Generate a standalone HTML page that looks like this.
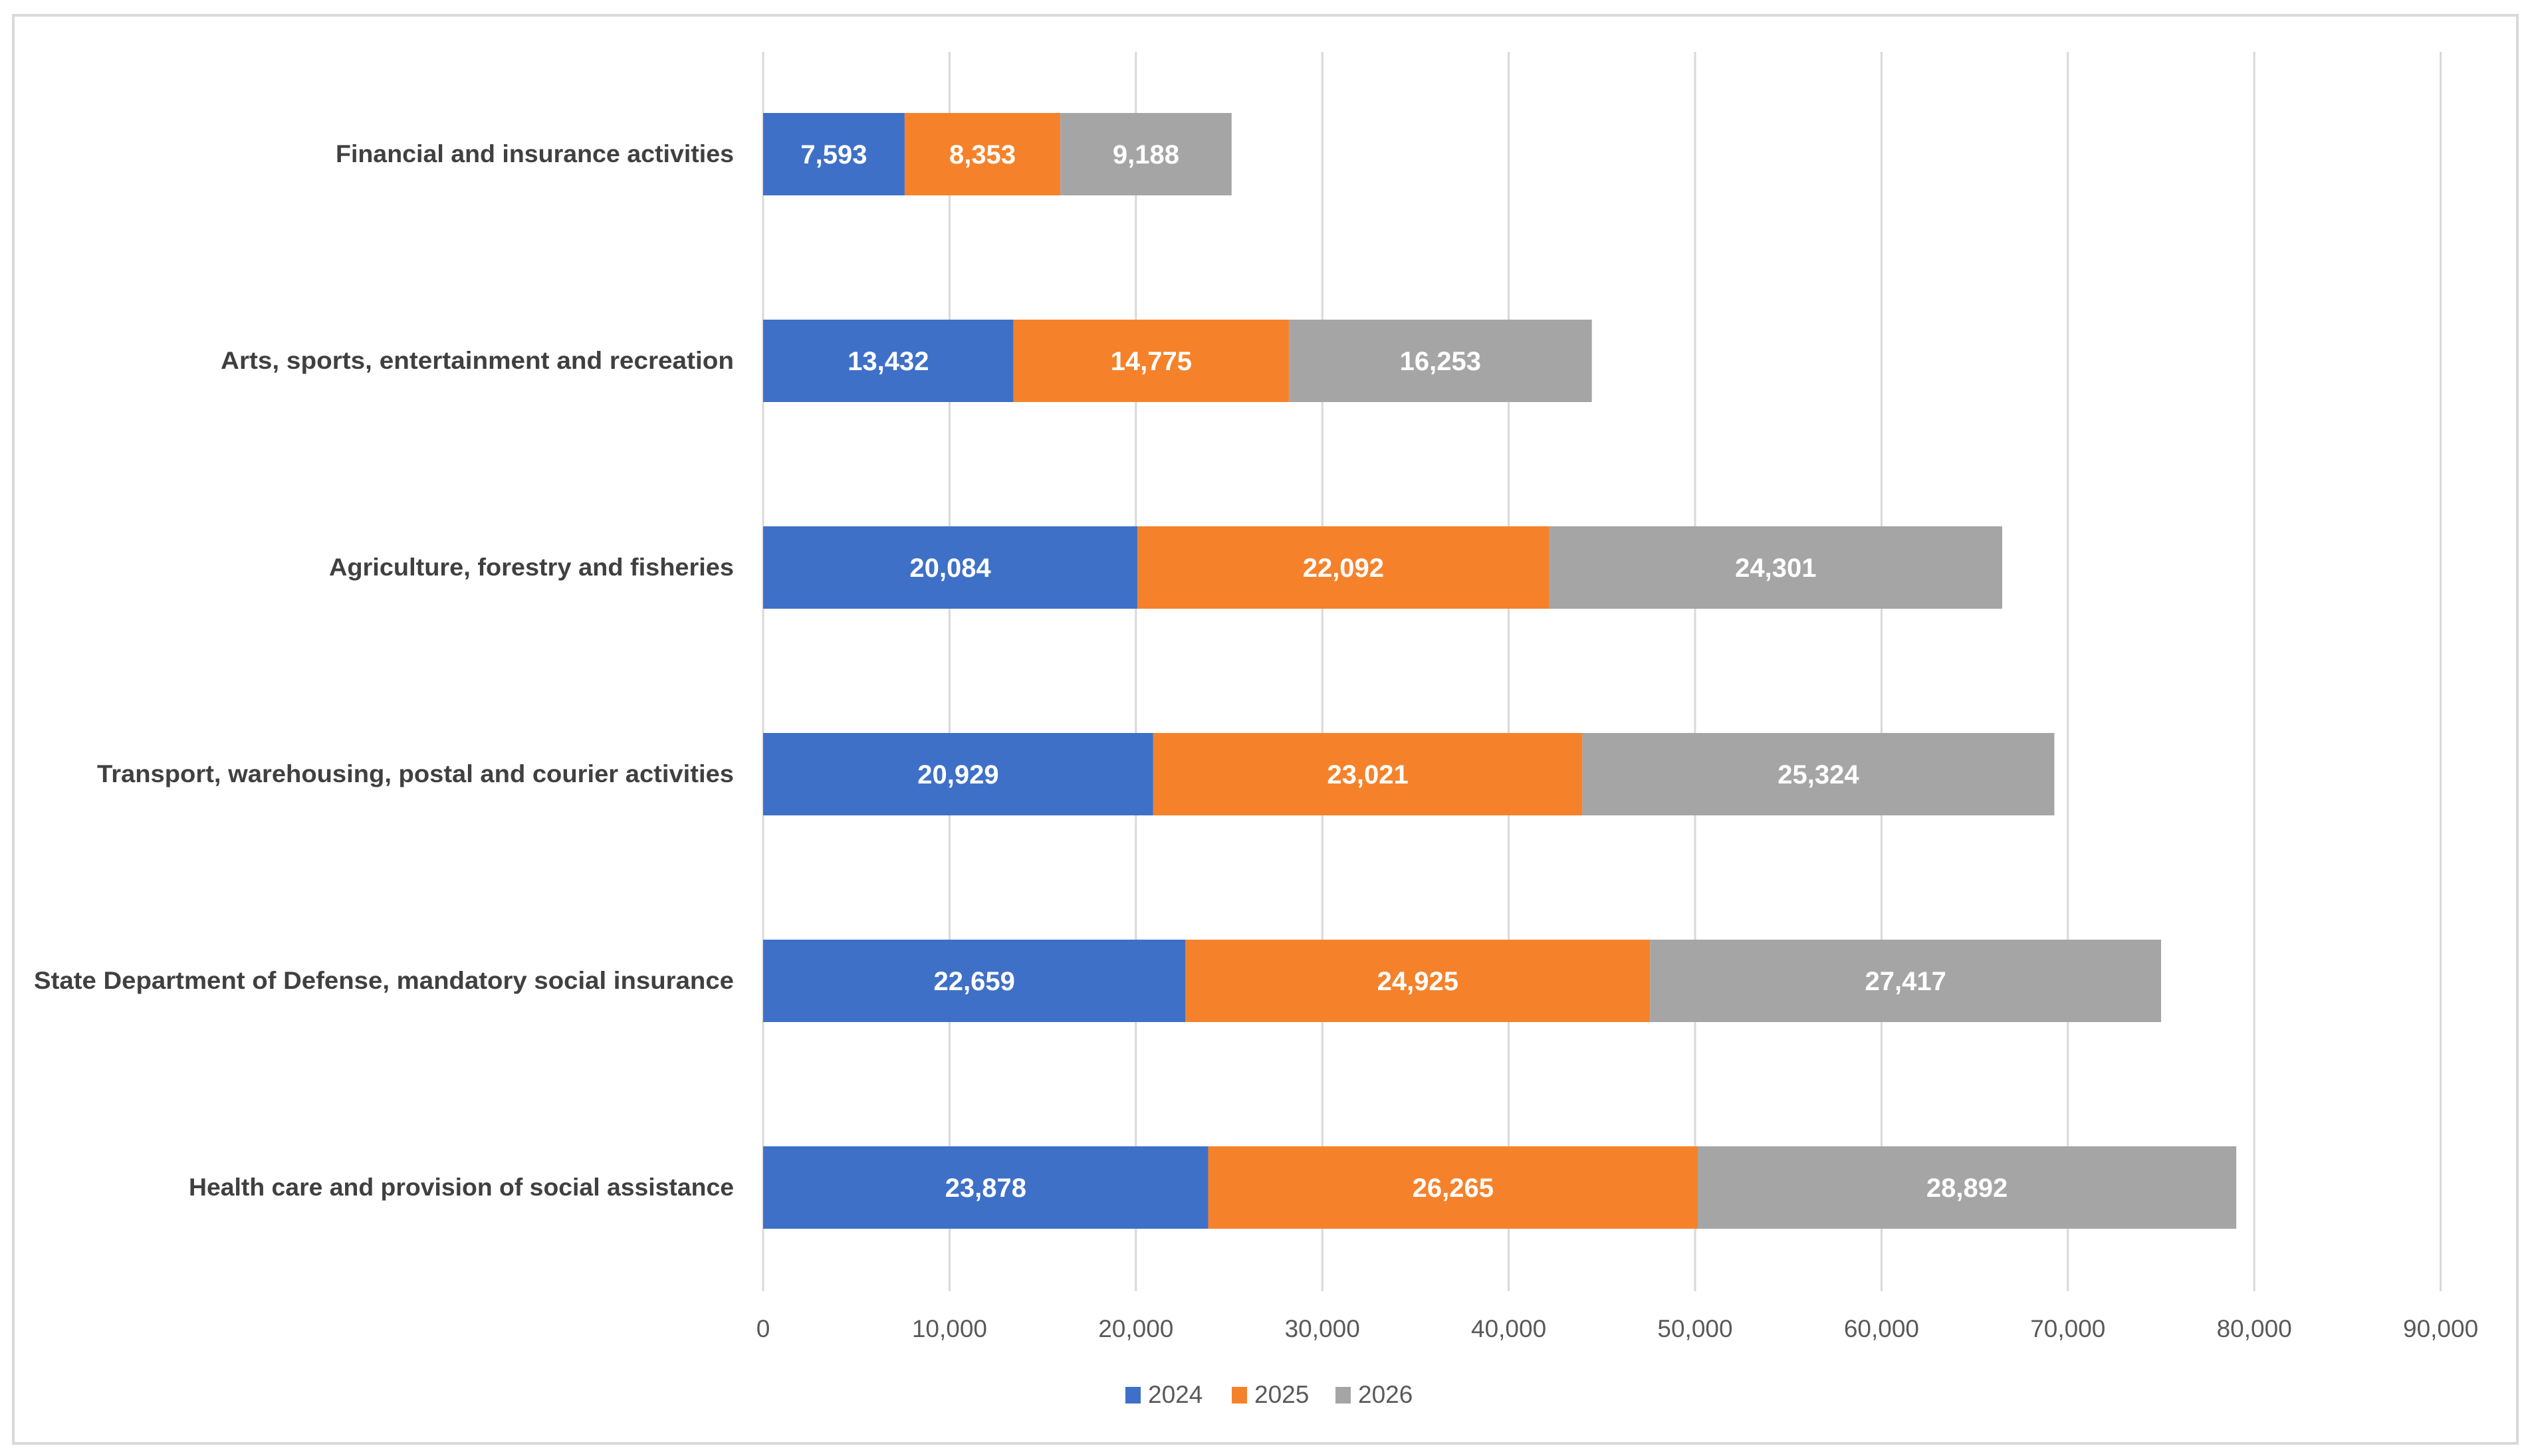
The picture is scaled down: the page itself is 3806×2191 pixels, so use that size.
<!DOCTYPE html>
<html><head><meta charset="utf-8"><style>
html,body{margin:0;padding:0;background:#fff;}
svg{display:block;}
</style></head><body>
<svg id="chart" width="3806" height="2191" viewBox="0 0 3806 2191" xmlns="http://www.w3.org/2000/svg">
<rect x="20" y="23" width="3767" height="2149" fill="#fff" stroke="#d9d9d9" stroke-width="4"/>
<g id="grid"></g>
<g id="bars"></g>
<g id="cats"></g>
<g id="ticks"></g>
<g id="legend"></g>
</svg>
<script>
const categories = ["Financial and insurance activities","Arts, sports, entertainment and recreation","Agriculture, forestry and fisheries","Transport, warehousing, postal and courier activities","State Department of Defense, mandatory social insurance","Health care and provision of social assistance"];
const labelWidths = [599,772,609,958,1053,820];
const series2024 = [7593,13432,20084,20929,22659,23878];
const series2025 = [8353,14775,22092,23021,24925,26265];
const series2026 = [9188,16253,24301,25324,27417,28892];
const seriesNames = ["2024","2025","2026"];
const tickValues = [0,10000,20000,30000,40000,50000,60000,70000,80000,90000];
const tickLabels = ["0","10,000","20,000","30,000","40,000","50,000","60,000","70,000","80,000","90,000"];

const NS="http://www.w3.org/2000/svg";
const colors=["#3E70C8","#F5822A","#A5A5A5"];
const x0=1148, xScale=280.4/10000, yTop=78, yBot=1943;
const firstCenter=232, step=311, barH=124;
function xPos(v){return x0+v*xScale;}
function yPos(i){return firstCenter+i*step;}
function mk(tag,attrs,parent){const e=document.createElementNS(NS,tag);for(const k in attrs)e.setAttribute(k,attrs[k]);parent.appendChild(e);return e;}
function fmt(v){return v.toLocaleString('en-US');}

const grid=document.getElementById('grid');
tickValues.forEach((t,i)=>{
  const l=mk('line',{x1:xPos(t),x2:xPos(t),y1:yTop,y2:yBot,stroke:'#d9d9d9','stroke-width':3},grid);
  
  
  const tx=mk('text',{x:xPos(t),y:2012,'text-anchor':'middle','font-family':'Liberation Sans, sans-serif','font-size':37,fill:'#595959'},document.getElementById('ticks'));
  tx.textContent=tickLabels[i];
  
  
});

const bars=document.getElementById('bars');
const all=[series2024,series2025,series2026];
categories.forEach((c,i)=>{
  let acc=0;
  all.forEach((s,j)=>{
    const v=s[i];
    const r=mk('rect',{x:xPos(acc),y:yPos(i)-barH/2,width:v*xScale,height:barH,fill:colors[j]},bars);
    
    
    const t=mk('text',{x:xPos(acc+v/2),y:yPos(i)+14,'text-anchor':'middle','font-family':'Liberation Sans, sans-serif','font-size':40,'font-weight':'bold',fill:'#fff'},bars);
    t.textContent=fmt(v);
    
    
    acc+=v;
  });
  const cl=mk('text',{x:1104,y:yPos(i)+12,'text-anchor':'end','font-family':'Liberation Sans, sans-serif','font-size':37,'font-weight':'bold',fill:'#404040',textLength:labelWidths[i],lengthAdjust:'spacingAndGlyphs'},document.getElementById('cats'));
  cl.textContent=c;
  
  
});

const legend=document.getElementById('legend');
const lx=[1693,1853,2009];
seriesNames.forEach((n,j)=>{
  const sq=mk('rect',{x:lx[j],y:2087,width:23,height:25,fill:colors[j]},legend);
  
  
  const t=mk('text',{x:lx[j]+34,y:2111,'font-family':'Liberation Sans, sans-serif','font-size':37,fill:'#595959'},legend);
  t.textContent=n;
  
  
});
</script>
</body></html>
